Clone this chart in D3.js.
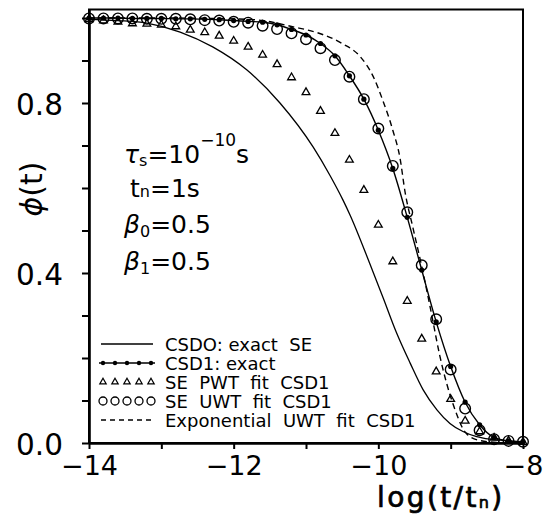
<!DOCTYPE html>
<html>
<head>
<meta charset="utf-8">
<script src="https://cdn.jsdelivr.net/npm/d3@7"></script>
<style>
  html, body { margin: 0; padding: 0; background: #fff; }
  svg { display: block; }
  text { font-family: "DejaVu Sans", sans-serif; fill: #000; }
</style>
</head>
<body>
<svg id="chart" width="548" height="521"></svg>
<script>
// ---------------- data ----------------
const markerX = [-14,-13.8,-13.6,-13.4,-13.2,-13,-12.8,-12.6,-12.4,-12.2,-12,-11.8,-11.6,-11.4,-11.2,-11,-10.8,-10.6,-10.4,-10.2,-10,-9.8,-9.6,-9.4,-9.2,-9,-8.8,-8.6,-8.4,-8.2,-8];
// CSD1: exact (line with dots)
const csd1Exact = [1.000,1.000,1.000,0.999,0.999,0.999,0.998,0.998,0.997,0.996,0.994,0.992,0.990,0.984,0.973,0.960,0.940,0.911,0.864,0.809,0.736,0.646,0.531,0.407,0.285,0.180,0.096,0.043,0.013,0.005,0.003];
// SE UWT fit CSD1 (open circles)
const seUwtFit = [0.999,0.999,0.999,0.999,0.998,0.998,0.998,0.997,0.995,0.994,0.991,0.989,0.982,0.974,0.964,0.950,0.929,0.901,0.862,0.809,0.740,0.652,0.543,0.418,0.291,0.173,0.081,0.030,0.009,0.005,0.003];
// SE PWT fit CSD1 (open triangles)
const sePwtFit = [0.997,0.994,0.991,0.987,0.986,0.984,0.980,0.972,0.966,0.958,0.946,0.932,0.913,0.891,0.860,0.825,0.781,0.729,0.666,0.595,0.513,0.427,0.334,0.245,0.168,0.103,0.052,0.027,0.012,0.005,0.002];
// CSD0: exact SE (solid line)
const csd0X = [-14.0,-13.6,-13.2,-12.74,-12.29,-11.82,-11.36,-10.90,-10.67,-10.49,-10.39,-10.12,-9.93,-9.75,-9.56,-9.38,-9.19,-9.01,-8.83,-8.64,-8.46,-8.2,-8.0];
const csd0Y = [0.997,0.994,0.988,0.967,0.932,0.878,0.800,0.696,0.630,0.572,0.536,0.423,0.340,0.260,0.188,0.125,0.078,0.046,0.027,0.015,0.009,0.005,0.003];
// Exponential UWT fit CSD1 (dashed line)
const expX = [-14,-13,-12,-11.6,-11.2,-10.8,-10.5,-10.25,-10.07,-9.94,-9.80,-9.70,-9.63,-9.525,-9.42,-9.285,-9.24,-9.15,-9.055,-8.96,-8.89,-8.85,-8.78,-8.6,-8.3,-8.0];
const expY = [1.0,1.0,0.998,0.994,0.980,0.963,0.940,0.909,0.862,0.807,0.736,0.670,0.590,0.509,0.431,0.321,0.282,0.205,0.140,0.088,0.056,0.040,0.022,0.006,0.001,0.000];

const xTicks = [-14,-13,-12,-11,-10,-9,-8];
const xLabelTicks = [-14,-12,-10,-8];
const yTicks = [0,0.1,0.2,0.3,0.4,0.5,0.6,0.7,0.8,0.9,1.0];
const yLabelTicks = [0,0.4,0.8];

const legendLabels = ["CSDO: exact  SE","CSD1: exact","SE  PWT  fit  CSD1","SE  UWT  fit  CSD1","Exponential  UWT  fit  CSD1"];

// ---------------- layout ----------------
const svg = d3.select("#chart");
const x = d3.scaleLinear().domain([-14,-8]).range([89,523]);
const y = d3.scaleLinear().domain([0,1.02]).range([443,9.5]);

svg.append("rect").attr("width",548).attr("height",521).attr("fill","#fff");

// frame
svg.append("rect")
  .attr("x",x(-14)).attr("y",y(1.02))
  .attr("width",x(-8)-x(-14)).attr("height",y(0)-y(1.02))
  .attr("fill","none").attr("stroke","#000").attr("stroke-width",2);

// x axis
const xAxis = d3.axisBottom(x).tickValues(xTicks).tickSize(6).tickSizeOuter(0).tickPadding(7)
  .tickFormat(d => xLabelTicks.includes(d) ? d3.format("d")(d) : "");
const gx = svg.append("g").attr("transform",`translate(0,${y(0)})`).call(xAxis);
gx.select(".domain").attr("stroke-width",2.6);
gx.selectAll(".tick line").attr("stroke-width",2);
gx.selectAll(".tick text").attr("font-family","DejaVu Sans").attr("font-size",27);

// y axis
const yAxis = d3.axisLeft(y).tickValues(yTicks).tickSize(7).tickSizeOuter(0).tickPadding(19)
  .tickFormat(d => yLabelTicks.some(v => Math.abs(v-d)<1e-9) ? d3.format(".1f")(d) : "");
const gy = svg.append("g").attr("transform",`translate(${x(-14)},0)`).call(yAxis);
gy.select(".domain").attr("stroke-width",2.6);
gy.selectAll(".tick line").attr("stroke-width",2);
gy.selectAll(".tick text").attr("font-family","DejaVu Sans").attr("font-size",29.5).attr("dy","0.4em");

// axis titles
const xt = svg.append("text").attr("x",377).attr("y",507)
  .attr("font-size",28).attr("stroke","#000").attr("stroke-width",0.7).attr("letter-spacing",2.4);
xt.append("tspan").text("log(t/t");
xt.append("tspan").attr("font-size",16).attr("dy",1).text("n");
xt.append("tspan").attr("dy",-1).text(")");

const yt = svg.append("text")
  .attr("transform","translate(42,189) rotate(-90)")
  .attr("text-anchor","middle").attr("font-size",30);
yt.append("tspan").attr("font-style","italic").text("ϕ");
yt.append("tspan").text("(t)");

// ---------------- series ----------------
const lineGen = d3.line().x(d=>x(d[0])).y(d=>y(d[1])).curve(d3.curveMonotoneX);

svg.append("path")
  .datum(csd0X.map((v,i)=>[v,csd0Y[i]]))
  .attr("d",lineGen).attr("fill","none").attr("stroke","#000").attr("stroke-width",1.3);

svg.append("path")
  .datum(expX.map((v,i)=>[v,expY[i]]))
  .attr("d",lineGen).attr("fill","none").attr("stroke","#000").attr("stroke-width",1.4)
  .attr("stroke-dasharray","6,4");

svg.append("path")
  .datum(markerX.map((v,i)=>[v,csd1Exact[i]]))
  .attr("d",lineGen).attr("fill","none").attr("stroke","#000").attr("stroke-width",1.4);

svg.append("g").selectAll("circle").data(markerX.map((v,i)=>[v,csd1Exact[i]])).join("circle")
  .attr("cx",d=>x(d[0])).attr("cy",d=>y(d[1])).attr("r",2.6).attr("fill","#000");

const tri = d3.symbol(d3.symbolTriangle, 26);
svg.append("g").selectAll("path").data(markerX.map((v,i)=>[v,sePwtFit[i]])).join("path")
  .attr("d",tri).attr("transform",d=>`translate(${x(d[0])},${y(d[1])})`)
  .attr("fill","none").attr("stroke","#000").attr("stroke-width",1.3);

svg.append("g").selectAll("circle").data(markerX.map((v,i)=>[v,seUwtFit[i]])).join("circle")
  .attr("cx",d=>x(d[0])).attr("cy",d=>y(d[1])).attr("r",5.3)
  .attr("fill","none").attr("stroke","#000").attr("stroke-width",1.4);

// ---------------- annotation ----------------
const ann = svg.append("g").attr("font-size",25);
const t1 = ann.append("text").attr("x",124).attr("y",163);
t1.append("tspan").attr("font-style","italic").text("τ");
t1.append("tspan").attr("font-size",16).attr("dy",3).text("s");
t1.append("tspan").attr("dy",-3).text("=10");
t1.append("tspan").attr("font-size",17).attr("dy",-17).text("−10");
t1.append("tspan").attr("dy",17).text("s");

const t2 = ann.append("text").attr("x",130).attr("y",197);
t2.append("tspan").text("t");
t2.append("tspan").attr("font-size",16).attr("dy",0).text("n");
t2.append("tspan").text("=1s");

const t3 = ann.append("text").attr("x",124).attr("y",233);
t3.append("tspan").attr("font-style","italic").text("β");
t3.append("tspan").attr("font-size",16).attr("dy",4).text("0");
t3.append("tspan").attr("dy",-4).text("=0.5");

const t4 = ann.append("text").attr("x",124).attr("y",270);
t4.append("tspan").attr("font-style","italic").text("β");
t4.append("tspan").attr("font-size",16).attr("dy",4).text("1");
t4.append("tspan").attr("dy",-4).text("=0.5");

// ---------------- legend ----------------
const legRows = [344,363,382,401,420];
const legX0 = 101, legX1 = 153, legTextX = 165;
const legSampleX = [0,1,2,3,4].map(i => legX0 + 2 + i*(legX1-legX0-4)/4);
const leg = svg.append("g");
legendLabels.forEach((lab,i)=>{
  leg.append("text").attr("x",legTextX).attr("y",legRows[i]+7)
    .attr("font-size",18).style("white-space","pre").text(lab);
});
// row 0 solid
leg.append("line").attr("x1",legX0).attr("x2",legX1).attr("y1",legRows[0]).attr("y2",legRows[0])
  .attr("stroke","#000").attr("stroke-width",1.3);
// row 1 line with dots
leg.append("line").attr("x1",legX0-2).attr("x2",legX1+2).attr("y1",legRows[1]).attr("y2",legRows[1])
  .attr("stroke","#000").attr("stroke-width",1.4);
legSampleX.forEach(sx=>leg.append("circle").attr("cx",sx).attr("cy",legRows[1]).attr("r",2.2).attr("fill","#000"));
// row 2 triangles
const triS = d3.symbol(d3.symbolTriangle, 18);
legSampleX.forEach(sx=>leg.append("path").attr("d",triS).attr("transform",`translate(${sx},${legRows[2]})`)
  .attr("fill","none").attr("stroke","#000").attr("stroke-width",1.2));
// row 3 circles
legSampleX.forEach(sx=>leg.append("circle").attr("cx",sx).attr("cy",legRows[3]).attr("r",4)
  .attr("fill","none").attr("stroke","#000").attr("stroke-width",1.3));
// row 4 dashed
leg.append("line").attr("x1",legX0).attr("x2",legX1).attr("y1",legRows[4]).attr("y2",legRows[4])
  .attr("stroke","#000").attr("stroke-width",1.3).attr("stroke-dasharray","5,4");
</script>
</body>
</html>
